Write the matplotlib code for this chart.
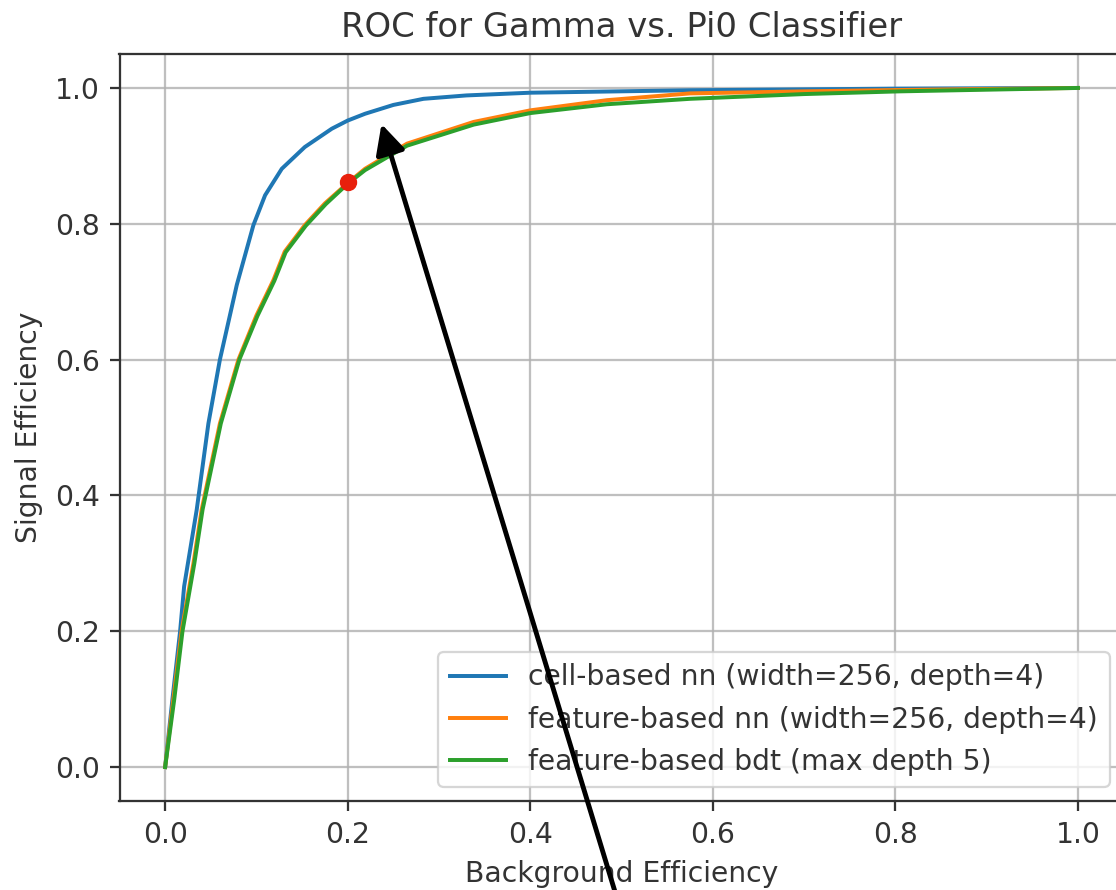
import matplotlib
matplotlib.use("Agg")
import matplotlib.pyplot as plt

# ---- data ----
cell_x = [0.0, 0.008, 0.0164, 0.0208, 0.0346, 0.0474, 0.060, 0.0785, 0.0967, 0.1095,
          0.1278, 0.153, 0.1826, 0.200, 0.219, 0.250, 0.283, 0.330, 0.400, 0.575,
          0.800, 1.0]
cell_y = [0.0, 0.10, 0.20, 0.266, 0.379, 0.506, 0.600, 0.710, 0.798, 0.842,
          0.881, 0.913, 0.940, 0.952, 0.962, 0.975, 0.984, 0.989, 0.993, 0.9966,
          0.999, 1.0]

feat_nn_x = [0.0, 0.009, 0.018, 0.031, 0.040, 0.060, 0.0803, 0.100, 0.1186, 0.131,
             0.153, 0.175, 0.200, 0.219, 0.265, 0.338, 0.400, 0.484, 0.575, 0.700,
             0.805, 1.0]
feat_nn_y = [0.0, 0.10, 0.20, 0.30, 0.379, 0.506, 0.600, 0.665, 0.717, 0.759,
             0.798, 0.830, 0.860, 0.881, 0.918, 0.950, 0.967, 0.982, 0.992, 0.995,
             0.997, 1.0]

feat_bdt_x = [0.0, 0.010, 0.019, 0.032, 0.041, 0.061, 0.0813, 0.101, 0.1196, 0.132,
              0.154, 0.176, 0.200, 0.219, 0.265, 0.338, 0.400, 0.484, 0.575, 0.700,
              0.805, 1.0]
feat_bdt_y = [0.0, 0.10, 0.20, 0.30, 0.379, 0.506, 0.600, 0.664, 0.716, 0.758,
              0.797, 0.829, 0.859, 0.879, 0.915, 0.946, 0.963, 0.976, 0.984, 0.991,
              0.995, 1.0]

point_x = [0.2]
point_y = [0.861]

labels = ["cell-based nn (width=256, depth=4)",
          "feature-based nn (width=256, depth=4)",
          "feature-based bdt (max depth 5)"]

title = "ROC for Gamma vs. Pi0 Classifier"
xlabel = "Background Efficiency"
ylabel = "Signal Efficiency"

# ---- figure ----
S = 2.03
plt.rcParams.update({
    "font.family": "DejaVu Sans",
    "font.size": 10 * S,
    "axes.linewidth": 0.8 * S,
    "xtick.major.width": 0.8 * S,
    "ytick.major.width": 0.8 * S,
    "xtick.major.size": 3.5 * S,
    "ytick.major.size": 3.5 * S,
    "xtick.major.pad": 3.5 * S,
    "ytick.major.pad": 3.5 * S,
    "axes.labelpad": 4.0 * S,
    "axes.titlepad": 6.0 * S,
    "text.color": "#333333",
    "axes.labelcolor": "#333333",
    "xtick.color": "#333333",
    "ytick.color": "#333333",
    "axes.edgecolor": "#333333",
})

fig = plt.figure(figsize=(11.16, 8.90), dpi=100)
ax = fig.add_axes([119.5 / 1116, 89 / 890, (1123.6 - 119.5) / 1116, (801 - 54) / 890])

lw = 1.5 * 1.9
ax.plot(cell_x, cell_y, color="#1f77b4", lw=lw, label=labels[0])
ax.plot(feat_nn_x, feat_nn_y, color="#ff7f0e", lw=lw, label=labels[1])
ax.plot(feat_bdt_x, feat_bdt_y, color="#2ca02c", lw=lw, label=labels[2])
ax.plot(point_x, point_y, "o", color="#e8200c", ms=11.5, zorder=5)

ax.set_xlim(-0.05, 1.05)
ax.set_ylim(-0.05, 1.05)
ax.set_xticks([0.0, 0.2, 0.4, 0.6, 0.8, 1.0])
ax.set_yticks([0.0, 0.2, 0.4, 0.6, 0.8, 1.0])
ax.grid(True, color="#b0b0b0", lw=0.8 * S, alpha=0.8)
ax.set_axisbelow(True)

ax.set_title(title, fontsize=12 * S)
ax.set_xlabel(xlabel)
ax.set_ylabel(ylabel)

leg = ax.legend(loc="lower right", fontsize=10 * S, framealpha=0.8,
                edgecolor="#cccccc", handlelength=2.0, borderaxespad=0.5)
leg.get_frame().set_linewidth(0.8 * S)

# black annotation arrow (in figure pixels), drawn above the legend
ax.annotate("", xy=(381.5, 890 - 124), xytext=(617.5, -10),
            xycoords="figure pixels", textcoords="figure pixels",
            annotation_clip=False, zorder=10,
            arrowprops=dict(arrowstyle="-|>,head_length=1.0,head_width=0.5",
                            lw=3.5, color="black", mutation_scale=18,
                            shrinkA=0, shrinkB=0))

fig.savefig("out.png", dpi=100)
